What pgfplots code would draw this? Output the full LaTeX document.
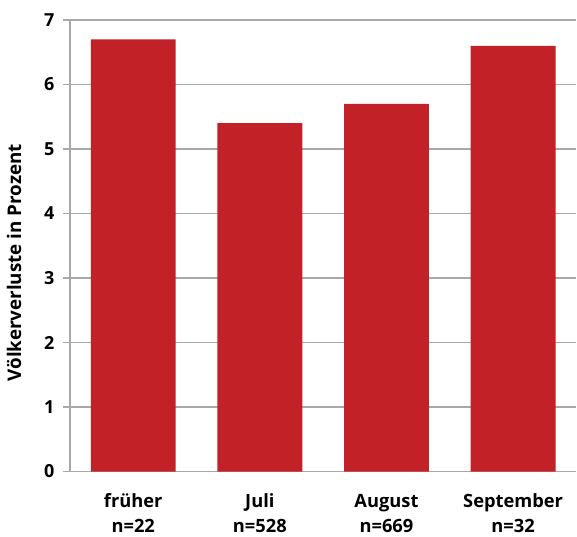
\documentclass[border=0pt]{standalone}
\usepackage{pgfplots}
\pgfplotsset{compat=1.18}
\usepackage{fontspec}
\setmainfont{Open Sans}
\definecolor{barred}{HTML}{C32128}
\definecolor{gridgray}{HTML}{A8A8A8}
\begin{document}
\begin{tikzpicture}
\begin{axis}[
  at={(0,0)}, anchor=south west,
  scale only axis,
  width=507bp, height=452bp,
  xmin=-0.5, xmax=3.5,
  ymin=0, ymax=7,
  ytick={0,1,...,7},
  xtick=data,
  xticklabels={{früher\\n=22},{Juli\\n=528},{August\\n=669},{September\\n=32}},
  x tick label style={align=center, font=\fontsize{18.3bp}{25bp}\selectfont\bfseries, yshift=-12bp},
  y tick label style={font=\fontsize{18bp}{20bp}\selectfont\bfseries, xshift=-5bp},
  /pgf/number format/assume math mode=true,
  axis lines*=left,
  axis line style={draw=gridgray, line width=1.2bp, -},
  ymajorgrids,
  grid style={draw=gridgray, line width=1.2bp},
  major tick style={draw=gridgray, line width=1.2bp},
  tick align=outside,
  major tick length=7bp,
  xtick style={draw=none},
  ylabel={Völkerverluste in Prozent},
  every axis y label/.style={at={(axis description cs:-0.1105,0.4624)}, rotate=90, anchor=center,
    font=\fontsize{18.8bp}{20bp}\selectfont\bfseries},
  ybar,
  bar width=85bp,
  clip=false,
]
\addplot[fill=barred, draw=none] coordinates {(0,6.7) (1,5.4) (2,5.7) (3,6.6)};
\end{axis}
\useasboundingbox (-70bp,-61bp) rectangle (507bp,472bp);
\end{tikzpicture}
\end{document}
